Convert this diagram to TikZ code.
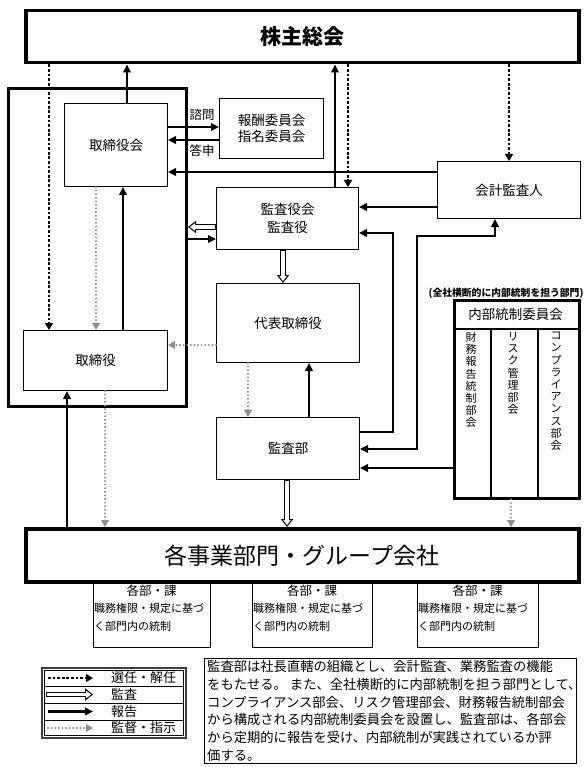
\documentclass[tikz,border=0pt]{standalone}
\usepackage{fontspec}
\setmainfont{Noto Sans CJK JP}
\usetikzlibrary{arrows.meta}
\definecolor{supgray}{RGB}{140,140,140}
\begin{document}
\begin{tikzpicture}[x=1pt,y=-1pt,
  box/.style={draw, line width=1pt, anchor=north west, inner sep=0pt, align=center, font=\fontsize{13.5}{18}\selectfont},
  rep/.style={line width=2.6pt, -{Triangle[length=8pt,width=7.5pt]}},
  repboth/.style={line width=2.6pt, {Triangle[length=8pt,width=7.5pt]}-{Triangle[length=8pt,width=7.5pt]}},
  elect/.style={line width=2.8pt, dash pattern=on 2.8pt off 1.8pt, -{Triangle[length=7pt,width=8pt]}},
  supv/.style={draw=supgray, line width=2.2pt, dash pattern=on 0pt off 3.6pt, line cap=round, -{Triangle[length=7pt,width=7.5pt,fill=supgray]}},
  audit/.style={line width=5.6pt, -{Triangle[length=8pt,width=12pt]}, postaction={draw=white, line width=3.2pt, shorten >=1.8pt, shorten <=0.6pt, -{Triangle[length=5pt,width=7pt]}}},
  lbl/.style={inner sep=0pt, font=\fontsize{12.5}{14}\selectfont}
]
\useasboundingbox (0,0) rectangle (587,767);

% ---- nodes ----
\node[box, line width=3.5pt, minimum width=553, minimum height=52, font=\fontsize{21}{24}\selectfont\bfseries] (kabu) at (24,9) {株主総会};
\node[draw, line width=3pt, anchor=north west, minimum width=178, minimum height=318, inner sep=0pt] (frame) at (7,87) {};
\node[box, minimum width=103, minimum height=83] (torikai) at (64,103) {取締役会};
\node[box, minimum width=104, minimum height=60, font=\fontsize{13.5}{16}\selectfont] (iinkai) at (219,98) {報酬委員会\\指名委員会};
\node[box, minimum width=143, minimum height=57] (kaikei) at (437,161) {会計監査人};
\node[box, minimum width=142, minimum height=62] (kansayaku) at (216,187) {監査役会\\監査役};
\node[box, minimum width=143, minimum height=79] (daihyo) at (216,283) {代表取締役};
\node[box, minimum width=144, minimum height=60] (torishimari) at (23,330) {取締役};
\node[box, minimum width=143, minimum height=62] (kansabu) at (216,417) {監査部};
\node[box, line width=2.5pt, minimum width=125, minimum height=198] (naibu) at (453,299) {};
\node[box, line width=3.5pt, minimum width=553, minimum height=53, font=\fontsize{23}{26}\selectfont] (jigyo) at (24,527) {各事業部門・グループ会社};

\node[lbl] (shimon) at (202,115) {諮問};
\node[lbl] (toshin) at (202,151) {答申};

% internal control committee
\draw[line width=2pt] (453,329) -- (578,329);
\draw[line width=2pt] (491,329) -- (491,497);
\draw[line width=2pt] (538,329) -- (538,497);
\node[inner sep=0pt, font=\fontsize{13.5}{16}\selectfont] (nbtitle) at (515.5,314) {内部統制委員会};
\node[inner sep=0pt, font=\fontsize{9.8}{12}\selectfont\bfseries] (caption) at (506,293) {(全社横断的に内部統制を担う部門)};
\node[anchor=north, align=center, inner sep=0pt, font=\fontsize{11}{12.2}\selectfont] (col1) at (471,332) {財\\務\\報\\告\\統\\制\\部\\会};
\node[anchor=north, align=center, inner sep=0pt, font=\fontsize{11}{12.2}\selectfont] (col2) at (513,332) {リ\\ス\\ク\\管\\理\\部\\会};
\node[anchor=north, align=center, inner sep=0pt, font=\fontsize{11}{12.2}\selectfont] (col3) at (556,332) {コ\\ン\\プ\\ラ\\イ\\ア\\ン\\ス\\部\\会};

% sub boxes
\node[box, minimum width=117, minimum height=67] (sub1) at (93,580) {};
\node[box, minimum width=120, minimum height=67] (sub2) at (252,580) {};
\node[box, minimum width=121, minimum height=67] (sub3) at (417,580) {};
\foreach \n/\cx/\lx in {1/151.5/94, 2/312/253, 3/477.5/418}{
  \node[inner sep=0pt, font=\fontsize{12.5}{14}\selectfont] (h\n) at (\cx,591) {各部・課};
  \node[anchor=north west, align=left, inner sep=0pt, font=\fontsize{11}{18}\selectfont] (t\n) at (\lx,603) {職務権限・規定に基づ\\く部門内の統制};
}

% ---- connectors ----
\draw[rep] (127,0 |- torikai.north) -- (127,0 |- kabu.south);
\draw[elect] (49,0 |- kabu.south) -- (49,0 |- torishimari.north);
\draw[supv] (96,0 |- torikai.south) -- (96,0 |- torishimari.north);
\draw[rep] (123,0 |- torishimari.north) -- (123,0 |- torikai.south);
\draw[rep] (torikai.east |- 0,127) -- (iinkai.west |- 0,127);
\draw[rep] (iinkai.west |- 0,140) -- (torikai.east |- 0,140);
\draw[rep] (kaikei.west |- 0,172) -- (torikai.east |- 0,172);
\draw[rep] (kaikei.west |- 0,207) -- (kansayaku.east |- 0,207);
\draw[rep] (335,0 |- kansayaku.north) -- (335,0 |- kabu.south);
\draw[elect] (348,0 |- kabu.south) -- (348,0 |- kansayaku.north);
\draw[elect] (509,0 |- kabu.south) -- (509,0 |- kaikei.north);
\draw[audit] (kansayaku.west |- 0,227) -- (frame.east |- 0,227);
\draw[rep] (frame.east |- 0,239) -- (kansayaku.west |- 0,239);
\draw[audit] (283,0 |- kansayaku.south) -- (283,0 |- daihyo.north);
\draw[supv] (daihyo.west |- 0,345) -- (torishimari.east |- 0,345);
\draw[supv] (248,0 |- daihyo.south) -- (248,0 |- kansabu.north);
\draw[rep] (309,0 |- kansabu.north) -- (309,0 |- daihyo.south);
\draw[rep] (kansabu.east |- 0,432) -| (393,233) -- (kansayaku.east |- 0,233);
\draw[repboth] (kansabu.east |- 0,449) -| (417,236) -| (495,0 |- kaikei.south);
\draw[rep] (naibu.west |- 0,468) -- (kansabu.east |- 0,468);
\draw[supv] (511,0 |- naibu.south) -- (511,0 |- jigyo.north);
\draw[rep] (67,0 |- jigyo.north) -- (67,0 |- torishimari.south);
\draw[supv] (105,0 |- torishimari.south) -- (105,0 |- jigyo.north);
\draw[audit] (287,0 |- kansabu.south) -- (287,0 |- jigyo.north);

% ---- legend ----
\draw[line width=1.3pt, draw=black!75] (42,668) rectangle (186,738);
\draw[line width=0.8pt] (44.5,670.5) rectangle (183.5,735.5);
\draw[line width=0.8pt] (44.5,686) -- (183.5,686);
\draw[line width=0.8pt] (44.5,703) -- (183.5,703);
\draw[line width=0.8pt] (44.5,720) -- (183.5,720);
\coordinate (l1a) at (48,678); \coordinate (l1b) at (93,678);
\coordinate (l2a) at (46,694.5); \coordinate (l2b) at (93,694.5);
\coordinate (l3a) at (48,711.5); \coordinate (l3b) at (93,711.5);
\coordinate (l4a) at (48,728); \coordinate (l4b) at (93,728);
\draw[elect] (l1a) -- (l1b);
\draw[audit] (l2a) -- (l2b);
\draw[rep] (l3a) -- (l3b);
\draw[supv] (l4a) -- (l4b);
\node[anchor=west, inner sep=0pt, font=\fontsize{13}{14}\selectfont] (lg1) at (111,678) {選任・解任};
\node[anchor=west, inner sep=0pt, font=\fontsize{13}{14}\selectfont] (lg2) at (111,694.5) {監査};
\node[anchor=west, inner sep=0pt, font=\fontsize{13}{14}\selectfont] (lg3) at (111,711.5) {報告};
\node[anchor=west, inner sep=0pt, font=\fontsize{13}{14}\selectfont] (lg4) at (111,728) {監督・指示};

% ---- note ----
\node[draw, line width=1pt, anchor=north west, minimum width=372, minimum height=105, inner sep=0pt] (note) at (204,658) {};
\node[anchor=north west, align=left, inner sep=0pt, font=\fontsize{13.3}{17.8}\selectfont] (notetext) at (207,660) {監査部は社長直轄の組織とし、会計監査、業務監査の機能\\をもたせる。 また、全社横断的に内部統制を担う部門として、\\コンプライアンス部会、リスク管理部会、財務報告統制部会\\から構成される内部統制委員会を設置し、監査部は、各部会\\から定期的に報告を受け、内部統制が実践されているか評\\価する。};
\end{tikzpicture}
\end{document}
